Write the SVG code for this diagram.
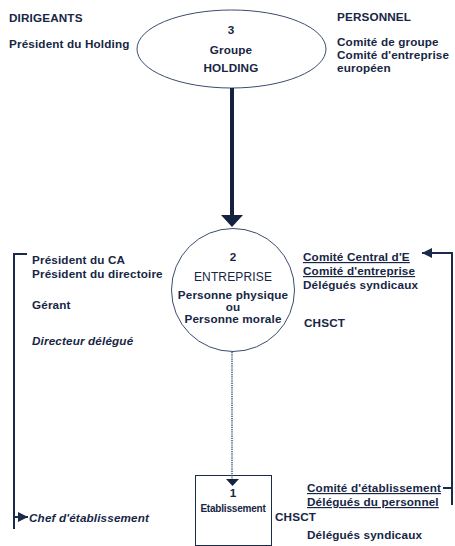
<svg xmlns="http://www.w3.org/2000/svg" width="455" height="546" viewBox="0 0 455 546">
<style>
text{font-family:"Liberation Sans",Arial,Helvetica,sans-serif;font-size:11.7px;font-weight:bold;fill:#172645;letter-spacing:0.15px}
.c{text-anchor:middle}
.u{text-decoration:underline}
.i{font-style:italic}
.n{font-weight:normal;font-size:12px}
.shape{fill:#fff;stroke:#3c4c6c;stroke-width:1}
.ln{fill:none;stroke:#1b2a4a;stroke-width:2}
</style>
<defs>
<marker id="ah" markerUnits="userSpaceOnUse" markerWidth="12" markerHeight="12" refX="10" refY="5" orient="auto">
<path d="M0,0 L10,5 L0,10 Z" fill="#1b2a4a"/>
</marker>
</defs>
<rect width="455" height="546" fill="#fff"/>

<g id="labels">
<text x="9" y="22">DIRIGEANTS</text>
<text x="9" y="48">Président du Holding</text>
<text x="337" y="21">PERSONNEL</text>
<text x="337" y="46">Comité de groupe</text>
<text x="337" y="59">Comité d'entreprise</text>
<text x="337" y="72">européen</text>
<text x="32" y="264">Président du CA</text>
<text x="32" y="278">Président du directoire</text>
<text x="32" y="309">Gérant</text>
<text x="32" y="345" class="i">Directeur délégué</text>
<text x="303" y="261" class="u">Comité Central d'E</text>
<text x="303" y="275" class="u">Comité d'entreprise</text>
<text x="303" y="289">Délégués syndicaux</text>
<text x="304" y="327">CHSCT</text>
<text x="29" y="522" class="i">Chef d'établissement</text>
<text x="307" y="492" class="u">Comité d'établissement</text>
<text x="307" y="506" class="u">Délégués du personnel</text>
<text x="275" y="521">CHSCT</text>
<text x="307" y="539">Délégués syndicaux</text>
</g>

<g id="holding">
<ellipse cx="231.5" cy="49" rx="94.5" ry="39" class="shape"/>
<text x="231" y="34" class="c">3</text>
<text x="231" y="54" class="c">Groupe</text>
<text x="231" y="72" class="c">HOLDING</text>
</g>

<g id="entreprise">
<circle cx="233" cy="290" r="61.5" class="shape"/>
<text x="233" y="261" class="c">2</text>
<text x="233" y="281" class="c n">ENTREPRISE</text>
<text x="233" y="299" class="c">Personne physique</text>
<text x="233" y="311" class="c">ou</text>
<text x="233" y="323" class="c">Personne morale</text>
</g>

<g id="etablissement">
<rect x="195.5" y="475.5" width="76" height="70" fill="#fff" stroke="#1b2a4a" stroke-width="1"/>
<text x="233" y="497" class="c">1</text>
<text x="233" y="512" class="c" style="font-size:10px;letter-spacing:-0.2px">Etablissement</text>
</g>

<g id="connectors">
<line x1="232" y1="88" x2="232" y2="215" stroke="#132240" stroke-width="4"/>
<polygon points="221,215 243,215 232,227" fill="#132240"/>
<line x1="232" y1="352" x2="232" y2="481" stroke="#4a5a78" stroke-width="1.6" stroke-dasharray="1.2,1"/>
<polygon points="226,479 239,479 232.5,486" fill="#132240"/>
<path class="ln" d="M27,254 H14 V529"/>
<path class="ln" d="M14,517 H28" marker-end="url(#ah)"/>
<path class="ln" d="M452,505 V253 H422" marker-end="url(#ah)"/>
<path class="ln" d="M443,488 H452"/>
</g>
</svg>
